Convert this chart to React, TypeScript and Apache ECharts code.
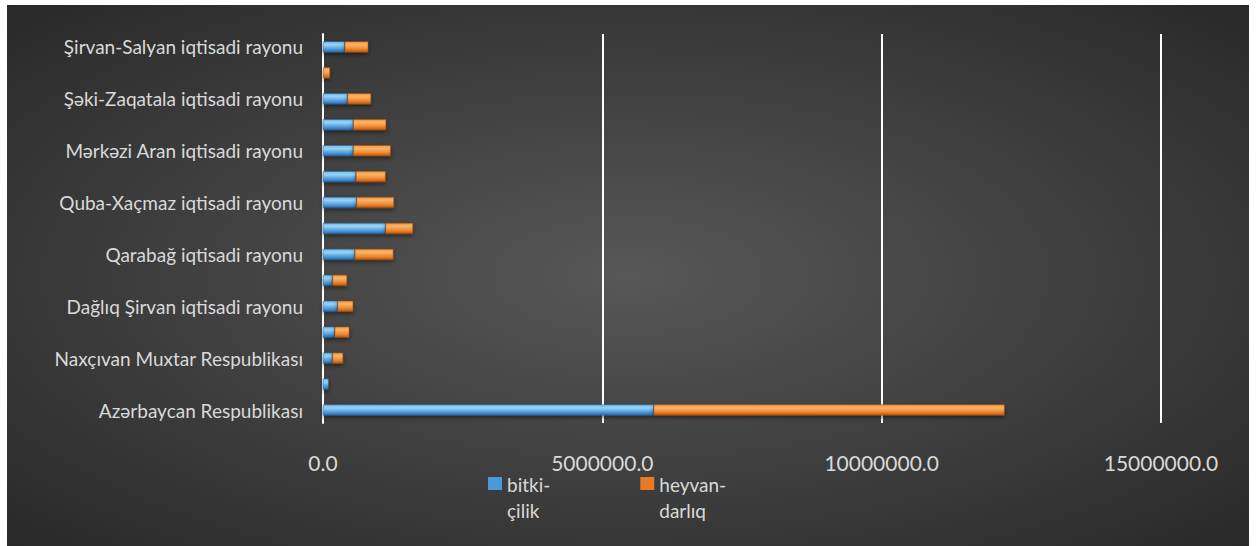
import React, { useEffect, useRef } from "react";
import * as echarts from "echarts";

const categories = [
  "Azərbaycan Respublikası",
  "Bakı şəhəri",
  "Naxçıvan Muxtar Respublikası",
  "Abşeron-Xızı iqtisadi rayonu",
  "Dağlıq Şirvan iqtisadi rayonu",
  "Gəncə-Daşkəsən iqtisadi rayonu",
  "Qarabağ iqtisadi rayonu",
  "Qazax-Tovuz iqtisadi rayonu",
  "Quba-Xaçmaz iqtisadi rayonu",
  "Lənkəran-Astara iqtisadi rayonu",
  "Mərkəzi Aran iqtisadi rayonu",
  "Mil-Muğan iqtisadi rayonu",
  "Şəki-Zaqatala iqtisadi rayonu",
  "Şərqi Zəngəzur iqtisadi rayonu",
  "Şirvan-Salyan iqtisadi rayonu",
];

const bitkicilik = [
  5920000, 100000, 170000, 210000, 260000, 170000, 570000, 1120000, 600000,
  590000, 540000, 540000, 440000, 5000, 390000,
];

const heyvandarliq = [
  6280000, 8000, 190000, 260000, 280000, 260000, 690000, 490000, 670000,
  530000, 670000, 590000, 420000, 120000, 420000,
];

const seriesNames = ["bitki-\nçilik", "heyvan-\ndarlıq"];
const xTicks = { min: 0, max: 15000000, interval: 5000000 };

const FONT = "Lato, 'Open Sans', sans-serif";

const LEGEND_ICON = "path://M0,6h14v13h-14z M0,0L0,0 M14,52L14,52";

export default function App() {
  const ref = useRef<HTMLDivElement>(null);
  useEffect(() => {
    if (!ref.current) return;
    const chart = echarts.init(ref.current, undefined, { renderer: "svg" });
    const blue = new echarts.graphic.LinearGradient(0, 0, 0, 1, [
      { offset: 0, color: "#74bcec" },
      { offset: 0.3, color: "#96d3f6" },
      { offset: 0.7, color: "#4f9cdb" },
      { offset: 1, color: "#2a66a6" },
    ]);
    const orange = new echarts.graphic.LinearGradient(0, 0, 0, 1, [
      { offset: 0, color: "#f49a45" },
      { offset: 0.3, color: "#fbb468" },
      { offset: 0.7, color: "#ee862a" },
      { offset: 1, color: "#b35610" },
    ]);
    chart.setOption({
      animation: false,
      backgroundColor: new echarts.graphic.RadialGradient(0.5, 0.5, 0.75, [
        { offset: 0, color: "#575757" },
        { offset: 1, color: "#262626" },
      ]),
      textStyle: { fontFamily: FONT },
      grid: { left: 316, right: 88, top: 29, bottom: 123, containLabel: false },
      legend: {
        left: 476,
        top: 461,
        itemWidth: 14,
        itemHeight: 52,
        itemGap: 90,
        icon: LEGEND_ICON,
        itemStyle: { borderWidth: 0 },
        textStyle: { color: "#d9d9d9", fontSize: 19, lineHeight: 26, fontFamily: FONT },
        data: [
          { name: seriesNames[0], itemStyle: { color: "#4a9ad8" } },
          { name: seriesNames[1], itemStyle: { color: "#e97a22" } },
        ],
      },
      xAxis: {
        type: "value",
        min: xTicks.min,
        max: xTicks.max,
        interval: xTicks.interval,
        axisLine: { show: false },
        axisTick: { show: false },
        axisLabel: {
          color: "#d9d9d9",
          fontSize: 21,
          margin: 29,
          fontFamily: FONT,
          formatter: (v: number) => v.toFixed(1),
        },
        splitLine: { lineStyle: { color: "#ffffff", width: 2 } },
      },
      yAxis: {
        type: "category",
        data: categories,
        axisLine: { lineStyle: { color: "#ffffff", width: 2 } },
        axisTick: { show: false },
        axisLabel: {
          color: "#d9d9d9",
          fontSize: 19,
          interval: 1,
          margin: 20,
          fontFamily: FONT,
        },
      },
      series: [
        {
          name: seriesNames[0],
          type: "bar",
          stack: "total",
          data: bitkicilik,
          barWidth: 11,
          itemStyle: {
            color: blue,
            borderColor: "#2a5f95",
            borderWidth: 0.5,
            shadowBlur: 4,
            shadowColor: "rgba(0,0,0,0.5)",
            shadowOffsetY: 2,
          },
        },
        {
          name: seriesNames[1],
          type: "bar",
          stack: "total",
          data: heyvandarliq,
          barWidth: 11,
          itemStyle: {
            color: orange,
            borderColor: "#a34e10",
            borderWidth: 0.5,
            shadowBlur: 4,
            shadowColor: "rgba(0,0,0,0.5)",
            shadowOffsetY: 2,
          },
        },
      ],
    });
    return () => chart.dispose();
  }, []);
  return (
    <div
      ref={ref}
      style={{ position: "absolute", left: 7, top: 5, width: 1242, height: 541 }}
    />
  );
}
